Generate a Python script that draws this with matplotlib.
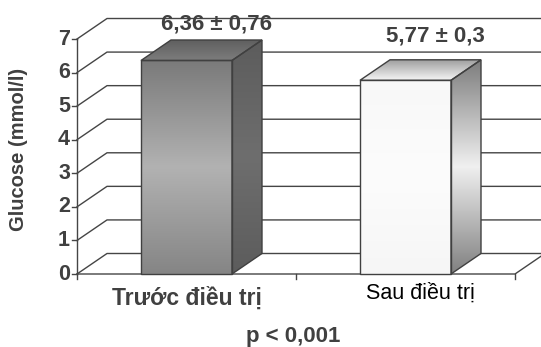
import numpy as np
import matplotlib.pyplot as plt
from matplotlib.patches import Polygon
from matplotlib.colors import LinearSegmentedColormap

plt.rcParams['font.family'] = ['Liberation Sans', 'DejaVu Sans']

# ---------------- data ----------------
groups = ['Trước điều trị', 'Sau điều trị']
glucose = [6.36, 5.77]
bar_labels = ['6,36 ± 0,76', '5,77 ± 0,3']
y_ticks = [0, 1, 2, 3, 4, 5, 6, 7]
y_title = 'Glucose (mmol/l)'
p_text = 'p < 0,001'

# ---------------- layout (pixels of the original picture) ----------------
W, H = 541, 347
x0_px, x_step = 186.5, 219.0     # centre of first category, px per category
y0_px, y_step = 274.0, 33.57     # baseline, px per mmol/l
dx = 30 / x_step                 # 3D depth offset
dy = 20.5 / y_step
half = 45.5 / x_step             # half bar width
line_c = '#454545'

fig = plt.figure(figsize=(W / 100, H / 100), dpi=100)
ax = fig.add_axes([0, 0, 1, 1])
xmin, xmax = -x0_px / x_step, (W - x0_px) / x_step
ax.set_xlim(xmin, xmax)
ax.set_ylim((y0_px - H) / y_step, y0_px / y_step)
ax.axis('off')

left = -0.5
right = len(groups) - 0.5

# back wall gridlines + left wall diagonals
for t in y_ticks:
    ax.plot([left, left + dx, xmax + 0.1], [t, t + dy, t + dy], color=line_c, lw=1, zorder=1)
    ax.plot([left - 5 / x_step, left], [t, t], color=line_c, lw=1, zorder=1)
    ax.text(left - 7 / x_step, t, str(t), ha='right', va='center', fontsize=15.5,
            fontweight='bold', color='#404040')

# front axis and floor
ax.plot([left, left], [0, max(y_ticks)], color=line_c, lw=1, zorder=1)
ax.plot([left, right, right + dx], [0, 0, dy], color=line_c, lw=1, zorder=1)
for xb in np.arange(left, right + 0.01, 1.0):
    ax.plot([xb, xb], [0, -5 / y_step], color=line_c, lw=1, zorder=1)


def grad_fill(pts, colors, z):
    poly = Polygon(pts, closed=True, facecolor='none', edgecolor='#404040', lw=1, zorder=z + 0.5)
    ax.add_patch(poly)
    xs, ys = zip(*pts)
    cmap = LinearSegmentedColormap.from_list('g', colors)
    arr = np.linspace(0, 1, 256).reshape(-1, 1)
    im = ax.imshow(arr, cmap=cmap, extent=(min(xs), max(xs), min(ys), max(ys)),
                   origin='lower', aspect='auto', zorder=z, interpolation='bilinear')
    im.set_clip_path(poly)


# bar colours (bottom -> top)
front_cols = [['#858585', '#b2b2b2', '#7a7a7a'], ['#f6f6f6', '#fcfcfc', '#f8f8f8']]
side_cols = [['#5c5c5c', '#6e6e6e', '#5c5c5c'], ['#808080', '#f0f0f0', '#7c7c7c']]
top_cols = [['#7c7c7c', '#5e5e5e'], ['#f4f4f4', '#9c9c9c']]
label_lift = [1.09, 1.32]

for i, v in enumerate(glucose):
    front = [(i - half, 0), (i + half, 0), (i + half, v), (i - half, v)]
    side = [(i + half, 0), (i + half + dx, dy), (i + half + dx, v + dy), (i + half, v)]
    top = [(i - half, v), (i + half, v), (i + half + dx, v + dy), (i - half + dx, v + dy)]
    grad_fill(front, front_cols[i], 3)
    grad_fill(side, side_cols[i], 3)
    grad_fill(top, top_cols[i], 3)
    ax.text(i + dx, v + label_lift[i], bar_labels[i], ha='center', va='center', fontsize=16,
            fontweight='bold', color='#404040', zorder=5)

# category labels
cat_dx = [0.0, 0.07]
cat_y = [-0.72, -0.57]
cat_weight = ['bold', 'normal']
cat_color = ['#404040', 'black']
cat_size = [16.5, 15.5]
for i, g in enumerate(groups):
    ax.text(i + cat_dx[i], cat_y[i], g, ha='center', va='center', fontsize=cat_size[i],
            fontweight=cat_weight[i], color=cat_color[i])

ax.text(-0.765, 3.72, y_title, rotation=90, ha='center', va='center', fontsize=14.5,
        fontweight='bold', color='#404040')
ax.text(0.486, -1.85, p_text, ha='center', va='center', fontsize=16,
        fontweight='bold', color='#404040')

fig.savefig('out.png', dpi=100)
